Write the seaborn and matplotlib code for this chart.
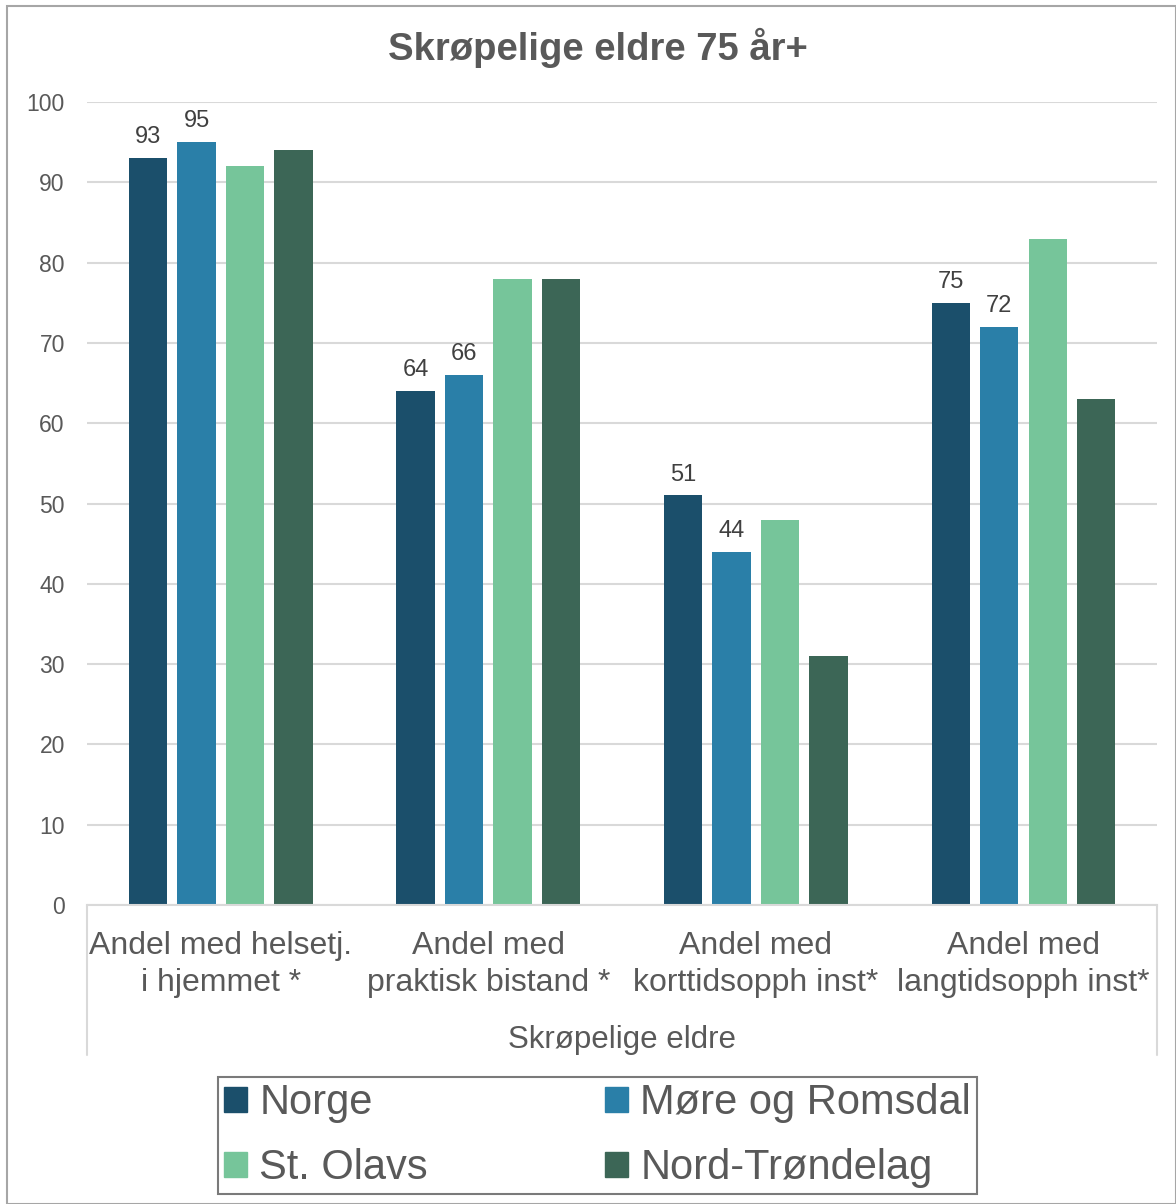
import numpy as np
import pandas as pd
import matplotlib
matplotlib.use("Agg")
import matplotlib.pyplot as plt
import seaborn as sns
from matplotlib.patches import Rectangle

kategorier = ["Andel med helsetj.\ni hjemmet *", "Andel med\npraktisk bistand *",
              "Andel med\nkorttidsopph inst*", "Andel med\nlangtidsopph inst*"]
regioner = ["Norge", "Møre og Romsdal", "St. Olavs", "Nord-Trøndelag"]
norge = [93, 64, 51, 75]
more_romsdal = [95, 66, 44, 72]
st_olavs = [92, 78, 48, 83]
nord_trondelag = [94, 78, 31, 63]
farger = ["#1B4F6B", "#2A7FA8", "#76C59A", "#3C6656"]
yticks = list(range(0, 101, 10))

serier = [norge, more_romsdal, st_olavs, nord_trondelag]
df = pd.DataFrame({
    "kategori": np.repeat([kategorier], len(regioner), axis=0).ravel(),
    "region": np.repeat(regioner, len(kategorier)),
    "verdi": np.concatenate(serier),
})

sns.set_theme(style="white")
plt.rcParams["font.family"] = ["Liberation Sans", "DejaVu Sans"]
tekst = "#595959"

fig = plt.figure(figsize=(11.76, 12.04), dpi=100)
ax = fig.add_axes([0.074, 0.2483, 0.910, 0.667])

sns.barplot(data=df, x="kategori", y="verdi", hue="region", hue_order=regioner,
            palette=farger, saturation=1, width=0.725, gap=0.21, linewidth=0,
            ax=ax, legend=False)

for c in ax.containers[:2]:
    ax.bar_label(c, fmt="%g", padding=7, fontsize=17, color="#404040")

ax.set_ylim(0, 100)
ax.set_yticks(yticks)
ax.set_xlim(-0.5, 3.5)
ax.grid(axis="y", color="#D9D9D9", linewidth=1.5)
ax.set_axisbelow(True)
for s in ["top", "right", "left"]:
    ax.spines[s].set_visible(False)
ax.spines["bottom"].set_color("#D9D9D9")
ax.spines["bottom"].set_linewidth(1.5)
ax.tick_params(axis="y", labelsize=16.5, labelcolor=tekst, length=0, pad=16)
ax.tick_params(axis="x", labelsize=23, labelcolor=tekst, length=0, pad=19)
ax.set_xlabel("")
ax.set_ylabel("")
for lab in ax.get_xticklabels():
    lab.set_linespacing(1.3)

# vertical separators of the category axis
for x in [0, 1]:
    ax.plot([x, x], [0, -0.187], transform=ax.transAxes, color="#D9D9D9",
            linewidth=1.5, clip_on=False)
ax.text(0.5, -0.168, "Skrøpelige eldre", transform=ax.transAxes, ha="center",
        va="center", fontsize=22.5, color=tekst)

fig.text(0.508, 0.960, "Skrøpelige eldre 75 år+", ha="center", va="center",
         fontsize=27.5, fontweight="bold", color=tekst)

# legend filled row by row like the reference
rekkefolge = [0, 2, 1, 3]
handles = [Rectangle((0, 0), 1, 1, color=farger[i]) for i in rekkefolge]
etiketter = [regioner[i] for i in rekkefolge]
leg = fig.legend(handles, etiketter, ncol=2, loc="center",
                 bbox_to_anchor=(0.508, 0.057), fontsize=30, frameon=True,
                 fancybox=False, handlelength=0.55, handleheight=0.55,
                 handletextpad=0.3, columnspacing=4.25, labelspacing=0.6,
                 borderpad=0.15, borderaxespad=0)
leg.get_frame().set_edgecolor("#595959")
leg.get_frame().set_linewidth(1.5)
for t in leg.get_texts():
    t.set_color(tekst)

fig.patches.append(Rectangle((0.006, 0.0), 0.994, 0.995, transform=fig.transFigure,
                             fill=False, edgecolor="#A6A6A6", linewidth=1.5))

fig.savefig("out.png", dpi=100)
